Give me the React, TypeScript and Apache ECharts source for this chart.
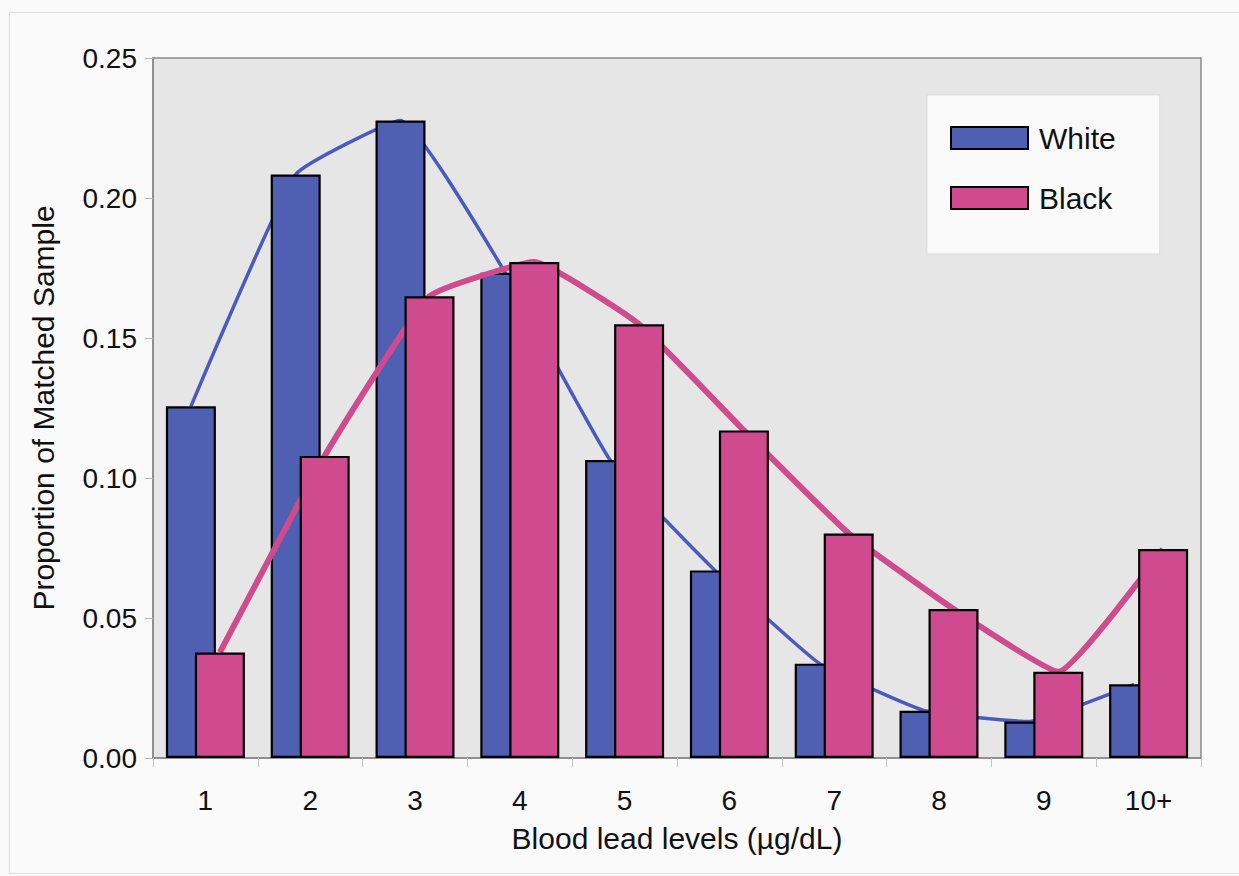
import React, { useEffect, useRef } from "react";
import * as echarts from "echarts";

const categories = ["1", "2", "3", "4", "5", "6", "7", "8", "9", "10+"];
const whiteValues = [0.1256, 0.2084, 0.2277, 0.1733, 0.1064, 0.067, 0.0337, 0.0169, 0.013, 0.0263];
const blackValues = [0.0377, 0.1079, 0.1649, 0.1771, 0.1549, 0.117, 0.0802, 0.0532, 0.0308, 0.0746];
const yTicks = { min: 0, max: 0.25, interval: 0.05 };

const W = 1239;
const H = 876;
const GRID = { left: 153, right: 38, top: 58, bottom: 118 };
const BAR_WIDTH = 50;
const BAR_GAP = -0.42;

const BLUE = "#4f5fb1";
const PINK = "#cf4a8e";
const FONT = "Liberation Sans, Arial, sans-serif";

export default function App() {
  const ref = useRef<HTMLDivElement>(null);
  useEffect(() => {
    document.body.style.margin = "0";
    document.body.style.background = "#f9f9f9";
    const chart = echarts.init(ref.current!, null, { renderer: "svg" });
    const catWidth = (W - GRID.left - GRID.right) / categories.length;
    const off = (BAR_WIDTH * (1 + BAR_GAP)) / 2 / catWidth;
    const whiteLine = whiteValues.map((v, i) => [i + 0.5 - off, v]);
    const blackLine = blackValues.map((v, i) => [i + 0.5 + off, v]);
    chart.setOption({
      animation: false,
      backgroundColor: "#f9f9f9",
      textStyle: { fontFamily: FONT },
      graphic: [
        {
          type: "rect",
          z: -10,
          shape: { x: 9.5, y: 12.5, width: W, height: 861 },
          style: { fill: "#fafafa", stroke: "#dedede", lineWidth: 1 },
        },
      ],
      grid: {
        left: GRID.left,
        right: GRID.right,
        top: GRID.top,
        bottom: GRID.bottom,
        show: true,
        backgroundColor: "#e6e6e6",
        borderColor: "#8a8a8a",
        borderWidth: 1.5,
      },
      legend: {
        data: [
          { name: "White", icon: "rect" },
          { name: "Black", icon: "rect" },
        ],
        orient: "vertical",
        left: 927,
        top: 95,
        backgroundColor: "#fafafa",
        borderColor: "#dcdcdc",
        borderWidth: 1,
        padding: [28, 44, 41, 23],
        itemWidth: 77,
        itemHeight: 22,
        itemGap: 30,
        textStyle: { fontSize: 30, color: "#111", fontFamily: FONT, lineHeight: 30, padding: [0, 0, 0, 6] },
      },
      xAxis: [
        {
          type: "category",
          data: categories,
          axisLine: { show: true, lineStyle: { color: "#8a8a8a", width: 1.5 } },
          axisTick: { show: true, length: 9, lineStyle: { color: "#c4c4c4" } },
          axisLabel: { fontSize: 28, color: "#111", margin: 28, fontFamily: FONT },
          name: "Blood lead levels (µg/dL)",
          nameLocation: "middle",
          nameGap: 65,
          nameTextStyle: { fontSize: 30, color: "#111", fontFamily: FONT },
        },
        {
          type: "value",
          min: 0,
          max: categories.length,
          show: false,
        },
      ],
      yAxis: {
        type: "value",
        min: yTicks.min,
        max: yTicks.max,
        interval: yTicks.interval,
        axisLine: { show: true, lineStyle: { color: "#8a8a8a", width: 1.5 } },
        axisTick: { show: true, length: 8, lineStyle: { color: "#b0b0b0" } },
        splitLine: { show: false },
        axisLabel: {
          fontSize: 28,
          color: "#111",
          margin: 16,
          fontFamily: FONT,
          formatter: (v: number) => v.toFixed(2),
        },
        name: "Proportion of Matched Sample",
        nameLocation: "middle",
        nameGap: 95,
        nameTextStyle: { fontSize: 30, color: "#111", fontFamily: FONT },
      },
      series: [
        {
          name: "White trend",
          type: "line",
          xAxisIndex: 1,
          data: whiteLine,
          smooth: 0.12,
          showSymbol: false,
          symbol: "none",
          lineStyle: { color: "#4a5bbd", width: 3.5 },
          z: 1,
        },
        {
          name: "White",
          type: "bar",
          xAxisIndex: 0,
          data: whiteValues,
          barWidth: BAR_WIDTH,
          barGap: `${BAR_GAP * 100}%`,
          itemStyle: { color: BLUE, borderColor: "#000", borderWidth: 2.2 },
          z: 2,
        },
        {
          name: "Black trend",
          type: "line",
          xAxisIndex: 1,
          data: blackLine,
          smooth: 0.12,
          showSymbol: false,
          symbol: "none",
          lineStyle: { color: "#d04a8e", width: 6 },
          z: 3,
        },
        {
          name: "Black",
          type: "bar",
          xAxisIndex: 0,
          data: blackValues,
          barWidth: BAR_WIDTH,
          barGap: `${BAR_GAP * 100}%`,
          itemStyle: { color: PINK, borderColor: "#000", borderWidth: 2.2 },
          z: 4,
        },
      ],
    });
    return () => chart.dispose();
  }, []);
  return <div ref={ref} style={{ width: W, height: H }} />;
}
